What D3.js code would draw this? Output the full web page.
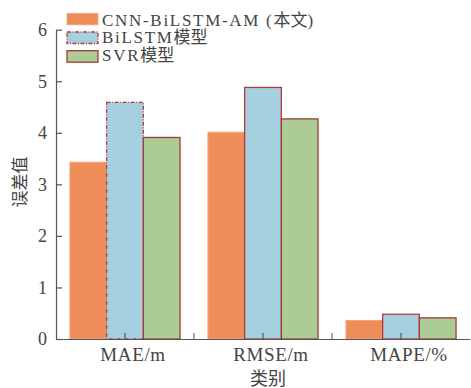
<!DOCTYPE html>
<html>
<head>
<meta charset="utf-8">
<script src="https://cdn.jsdelivr.net/npm/d3@7"></script>
<style>
  body { margin: 0; background: #fff; }
  text { font-family: "Liberation Serif", "Noto Sans CJK SC", serif; fill: #444; }
</style>
</head>
<body>
<div id="chart"></div>
<script>
// data
var categories = ["MAE/m", "RMSE/m", "MAPE/%"];
var seriesNames = ["CNN-BiLSTM-AM (本文)", "BiLSTM模型", "SVR模型"];
var cnnValues = [3.43, 4.01, 0.36];
var bilstmValues = [4.59, 4.88, 0.48];
var svrValues = [3.91, 4.27, 0.41];
var yTicks = [0, 1, 2, 3, 4, 5, 6];

var seriesValues = [cnnValues, bilstmValues, svrValues];
var fills = ["#ee8d5a", "#a5d0e0", "#abcd95"];
var strokes = ["#f0a57c", "#b03a3e", "#a33a3a"];

var width = 471, height = 388;
var margin = {left: 56, right: 1, top: 30, bottom: 49};

var svg = d3.select("#chart").append("svg").attr("width", width).attr("height", height);

var x = d3.scaleBand().domain(categories).range([margin.left, width - margin.right]);
var xInner = d3.scaleBand().domain(d3.range(3)).range([0, x.bandwidth()]).paddingOuter(0.38).paddingInner(0);
var y = d3.scaleLinear().domain([0, 6]).range([height - margin.bottom, margin.top - 0.3]);

// bars
categories.forEach(function(c, ci) {
  seriesValues.forEach(function(vals, si) {
    var rect = svg.append("rect")
      .attr("x", x(c) + xInner(si))
      .attr("y", y(vals[ci]))
      .attr("width", xInner.bandwidth())
      .attr("height", y(0) - y(vals[ci]))
      .attr("fill", fills[si])
      .attr("stroke", strokes[si])
      .attr("stroke-width", si == 0 ? 1 : 1.3);
    if (si == 1 && ci == 0) rect.attr("stroke-dasharray", "4,1.5,1,1.5");
  });
});

// latin runs get wider spacing, like the reference's stretched serif
function spaced(sel, str, ls) {
  str.match(/[\u4e00-\u9fff]+|[^\u4e00-\u9fff]+/g).forEach(function(part) {
    var t = sel.append("tspan").text(part);
    if (!/[\u4e00-\u9fff]/.test(part)) t.attr("letter-spacing", ls);
  });
}

// y axis
var yAxis = d3.axisLeft(y).tickValues(yTicks).tickFormat(d3.format("d"))
  .tickSizeInner(-6).tickSizeOuter(0).tickPadding(9);
var gy = svg.append("g").attr("transform", "translate(" + margin.left + ",0)").call(yAxis);
gy.selectAll("text").style("font-size", "18px");

// x axis, ticks at band centres and boundaries
var xAxis = d3.axisBottom(x).tickSizeInner(-6).tickSizeOuter(0).tickFormat("");
var gx = svg.append("g").attr("transform", "translate(0," + y(0) + ")").call(xAxis);
[x("RMSE/m"), x("MAPE/%")].forEach(function(px) {
  gx.append("line").attr("x1", px).attr("x2", px).attr("y1", 0).attr("y2", -6).attr("stroke", "#555");
});
svg.selectAll(".domain, .tick line").attr("stroke", "#555").attr("stroke-width", 1.2);

categories.forEach(function(c) {
  var t = svg.append("text").attr("x", x(c) + x.bandwidth() / 2 + 8).attr("y", 361)
    .attr("text-anchor", "middle").style("font-size", "19px");
  spaced(t, c, 0.6);
});

// axis titles
svg.append("text").attr("x", 268).attr("y", 385)
  .attr("text-anchor", "middle").style("font-size", "18px").text("类别");
svg.append("text").attr("transform", "translate(25.5,182) rotate(-90)")
  .attr("text-anchor", "middle").style("font-size", "17px").text("误差值");

// legend
var legend = svg.append("g");
seriesNames.forEach(function(name, i) {
  var r = legend.append("rect").attr("x", 67).attr("y", 13.3 + i * 18.7).attr("width", 31).attr("height", 11.5)
    .attr("fill", fills[i]).attr("stroke", strokes[i]).attr("stroke-width", i == 0 ? 0.8 : 1.3);
  if (i == 1) r.attr("stroke-dasharray", "4,1.5,1,1.5");
  var t = legend.append("text").attr("x", 102).attr("y", 25.5 + i * 17.5).style("font-size", "17px");
  spaced(t, name, 1.7);
});
</script>
</body>
</html>
